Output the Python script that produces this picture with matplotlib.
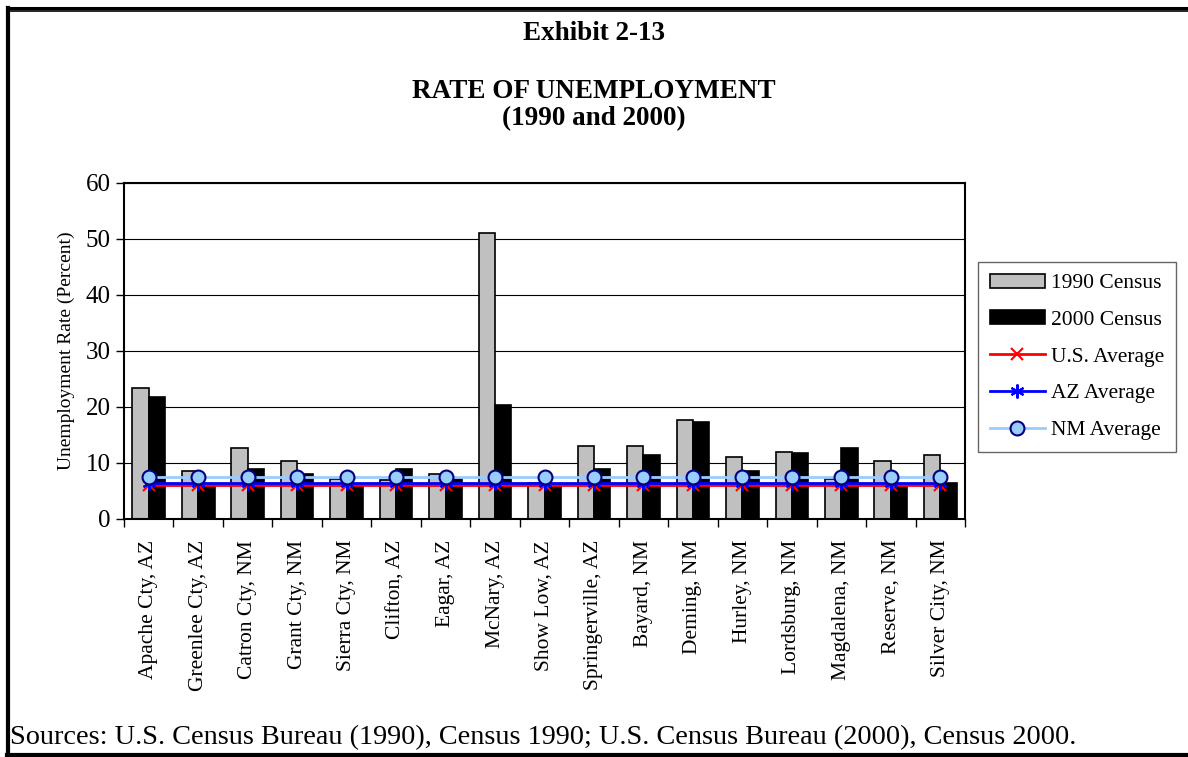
import numpy as np
import matplotlib
matplotlib.use("Agg")
from matplotlib import pyplot as plt
from matplotlib.lines import Line2D

plt.rcParams['font.family'] = ['Liberation Serif', 'DejaVu Serif']

places = ["Apache Cty, AZ", "Greenlee Cty, AZ", "Catron Cty, NM", "Grant Cty, NM",
          "Sierra Cty, NM", "Clifton, AZ", "Eagar, AZ", "McNary, AZ", "Show Low, AZ",
          "Springerville, AZ", "Bayard, NM", "Deming, NM", "Hurley, NM", "Lordsburg, NM",
          "Magdalena, NM", "Reserve, NM", "Silver City, NM"]
census_1990 = [23.4, 8.6, 12.7, 10.4, 7.2, 6.9, 8.0, 51.0, 6.5,
               13.0, 13.0, 17.6, 11.0, 12.0, 7.2, 10.4, 11.4]
census_2000 = [21.8, 6.0, 9.0, 8.0, 6.0, 9.0, 7.4, 20.4, 6.0,
               9.0, 11.4, 17.3, 8.6, 11.7, 12.7, 6.0, 6.5]
us_avg = 6.1
az_avg = 6.4
nm_avg = 7.5

W, H = 1188, 757
fig = plt.figure(figsize=(W / 100, H / 100), dpi=100)
ax = fig.add_axes([0.1044, 0.3144, 0.7079, 0.4439])

x = np.arange(len(places))
w = 0.33
b1 = ax.bar(x - w / 2, census_1990, w, color="#c0c0c0", edgecolor="black", linewidth=1.2,
            label="1990 Census", zorder=2)
b2 = ax.bar(x + w / 2, census_2000, w, color="black", edgecolor="black", linewidth=1.2,
            label="2000 Census", zorder=2)

l1, = ax.plot(x, [us_avg] * len(x), color="red", lw=2, marker="x", ms=9, mew=1.5,
              label="U.S. Average", zorder=3)
l2, = ax.plot(x, [az_avg] * len(x), color="blue", lw=2, marker=(6, 2, 0), ms=10, mew=1.5,
              label="AZ Average", zorder=3)
l3, = ax.plot(x, [nm_avg] * len(x), color="#99ccff", lw=2, marker="o", ms=10,
              mfc="#99ccff", mec="#000080", mew=1.5, label="NM Average", zorder=4)

ax.set_xlim(-0.5, len(places) - 0.5)
ax.set_ylim(0, 60)
ax.set_yticks(range(0, 61, 10))
ax.yaxis.grid(True, color="black", lw=0.8)
ax.set_axisbelow(True)
ax.set_xticks(x)
ax.set_xticklabels(places, rotation=90, fontsize=15.5)
ax.set_xticks(np.arange(-0.5, len(places)), minor=True)
ax.tick_params(axis="x", which="major", length=0, pad=15)
ax.tick_params(axis="x", which="minor", length=6, width=1)
ax.tick_params(axis="y", labelsize=18, length=6, width=1)
for s in ax.spines.values():
    s.set_linewidth(1.5)
ax.set_ylabel("Unemployment Rate (Percent)", fontsize=14, labelpad=8)

leg = ax.legend([b1, b2, l1, l2, l3],
                ["1990 Census", "2000 Census", "U.S. Average", "AZ Average", "NM Average"],
                loc="upper left", bbox_to_anchor=(978 / W, 1 - 262 / H),
                bbox_transform=fig.transFigure, borderaxespad=0, fontsize=15.5,
                frameon=True, fancybox=False, edgecolor="#404040",
                handlelength=2.55, handleheight=0.6, labelspacing=0.8, borderpad=0.55,
                handletextpad=0.28)
leg.get_frame().set_linewidth(1)

fig.text(0.5, 1 - 33 / H, "Exhibit 2-13", ha="center", va="center",
         fontsize=19.5, fontweight="bold")
fig.text(0.5, 1 - 91 / H, "RATE OF UNEMPLOYMENT", ha="center", va="center",
         fontsize=19.5, fontweight="bold")
fig.text(0.5, 1 - 119 / H, "(1990 and 2000)", ha="center", va="center",
         fontsize=19.5, fontweight="bold")
fig.text(10 / W, 1 - 738 / H,
         "Sources: U.S. Census Bureau (1990), Census 1990; U.S. Census Bureau (2000), Census 2000.",
         ha="left", va="center", fontsize=20.3)

# page frame
fig.add_artist(Line2D([8 / W, 8 / W], [1 - 8 / H, 2 / H], color="black", lw=3,
                      transform=fig.transFigure))
fig.add_artist(Line2D([7 / W, 1], [1 - 7.5 / H, 1 - 7.5 / H], color="black", lw=2.2,
                      transform=fig.transFigure))
fig.add_artist(Line2D([10 / W, 1], [1 - 11 / H, 1 - 11 / H], color="black", lw=1.2,
                      transform=fig.transFigure))
fig.add_artist(Line2D([7 / W, 1], [2 / H, 2 / H], color="black", lw=3,
                      transform=fig.transFigure))

fig.savefig("out.png", dpi=100)
